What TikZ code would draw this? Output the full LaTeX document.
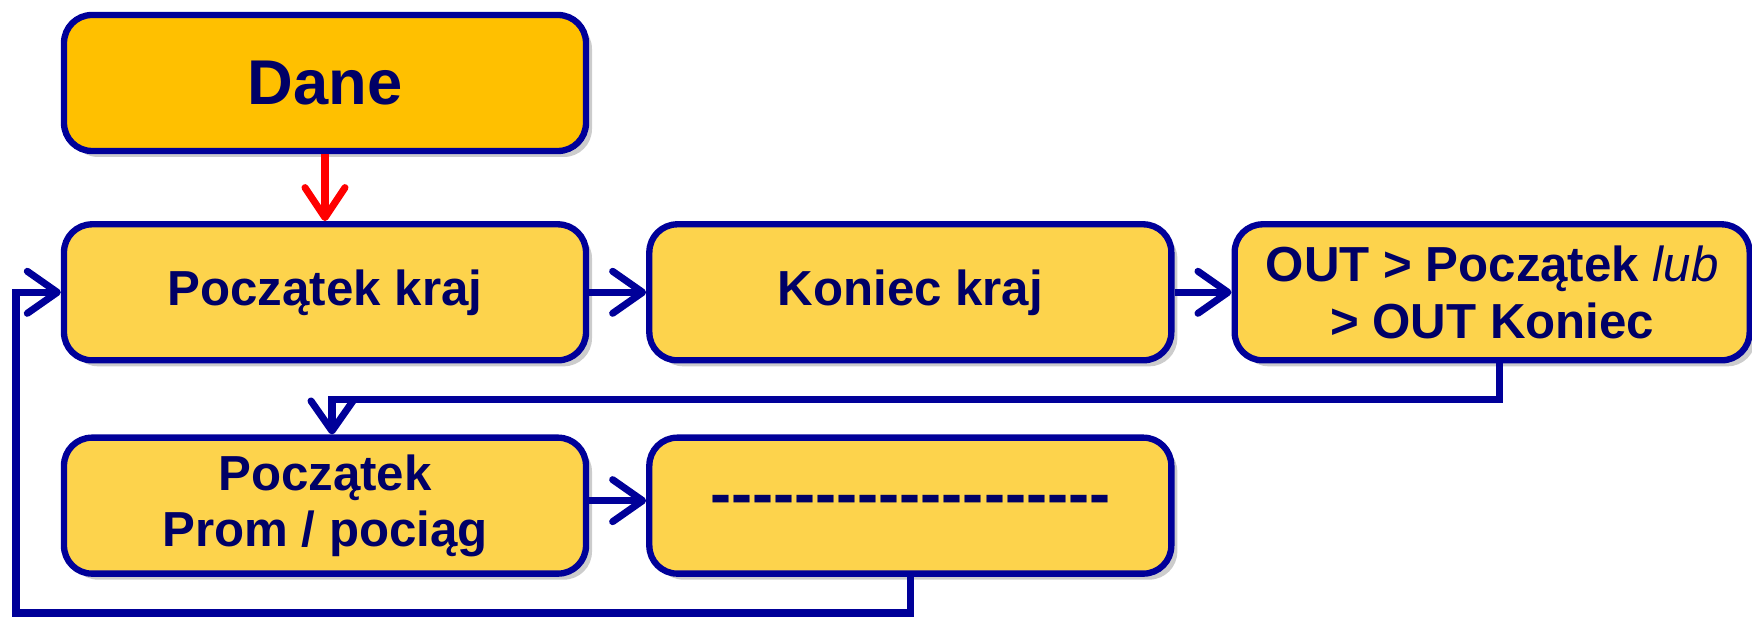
\documentclass[tikz,border=0pt]{standalone}
\usepackage{fontspec}
\setmainfont{Liberation Sans}
\usetikzlibrary{positioning,arrows.meta,shadows}

\definecolor{ramka}{HTML}{000099}
\definecolor{tekst}{HTML}{000066}
\definecolor{zolty}{HTML}{FDD34C}
\definecolor{pomar}{HTML}{FFC000}

\begin{document}
\begin{tikzpicture}[
    etap/.style={rectangle, rounded corners=2.8mm, draw=ramka, line width=1.8pt,
      fill=zolty, text=tekst, align=center, minimum width=5.22cm, minimum height=1.36cm,
      font=\fontsize{14}{16}\selectfont\bfseries,
      drop shadow={shadow xshift=0.6mm, shadow yshift=-0.6mm, opacity=0.4}},
    przejscie/.style={draw=ramka, line width=2pt,
      -{Straight Barb[length=3mm, width=4.2mm, round]}},
    start/.style={draw=red, line width=2pt,
      -{Straight Barb[length=3mm, width=4mm, round]}},
    node distance=0.57cm
  ]
  \useasboundingbox (0,0) rectangle (17.52,-6.19);

  \node (dane) [etap, fill=pomar, font=\fontsize{18}{20}\selectfont\bfseries] at (3.25,-0.83) {Dane};
  \node (pkraj) [etap, below=0.67cm of dane] {Początek kraj};
  \node (kkraj) [etap, right=of pkraj] {Koniec kraj};
  \node (out) [etap, right=of kkraj, minimum width=5.15cm] {OUT > Początek \textmd{\textit{lub}}\\ > OUT Koniec};
  \node (prom) [etap, below=0.71cm of pkraj] {Początek\\ Prom / pociąg};
  \node (dalej) [etap, right=of prom, font=\fontsize{18}{20}\selectfont\bfseries]
    {\foreach \i in {1,...,19}{-\kern0pt}};

  \coordinate (powrot) at (0.16,-6.13);

  \draw [start] (dane) -- (pkraj);
  \draw [przejscie] (pkraj) -- (kkraj);
  \draw [przejscie] (kkraj) -- (out);
  \draw [przejscie] ([xshift=0.7mm]out.south) -- ++(0,-0.36) -| ([xshift=0.7mm]prom.north);
  \draw [przejscie] ([yshift=0.5mm]prom.east) -- ([yshift=0.5mm]dalej.west);
  \draw [przejscie] (dalej.south) |- (powrot) |- (pkraj.west);

\end{tikzpicture}
\end{document}
